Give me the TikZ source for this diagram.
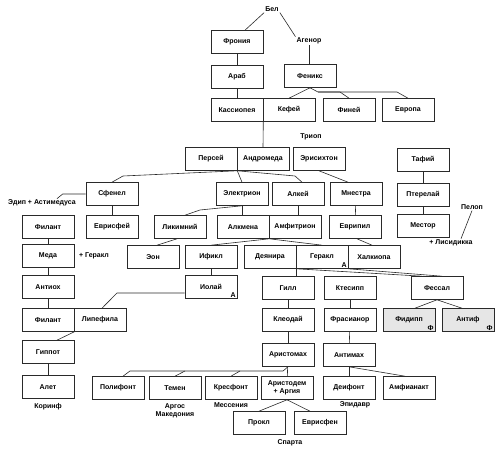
\documentclass[tikz,border=0pt]{standalone}
\usepackage{fontspec}
\setmainfont{Liberation Sans}
\usepackage{xcolor}
\usepackage{tikz}
\usetikzlibrary{positioning}
\definecolor{linkgray}{HTML}{2A2A2A}
\definecolor{shadegray}{HTML}{E6E6E6}

\begin{document}
\begin{tikzpicture}[x=1pt, y=-1pt,
    person/.style={draw=linkgray, line width=0.6pt, fill=white, minimum width=52pt, minimum height=23pt,
                   inner sep=1pt, font=\bfseries\fontsize{7}{8}\selectfont},
    shaded/.style={person, fill=shadegray},
    txt/.style={inner sep=1pt, font=\bfseries\fontsize{7}{8.5}\selectfont, align=center},
    cornertag/.style={anchor=south east, inner sep=1.5pt, font=\bfseries\fontsize{7}{8}\selectfont},
    link/.style={draw=linkgray, line width=0.6pt}]
  \useasboundingbox (0,0) rectangle (499,454);

  % top of the tree
  \node[txt] (bel) at (272,9) {Бел};
  \node[person] (fronia) at (237,42) {Фрония};
  \node[txt] (agenor) at (309,41) {Агенор};
  \node[person] (arab) at (237,77) {Араб};
  \node[person] (feniks) at (310,76) {Феникс};
  \node[person] (kassiopeia) at (237,110) {Кассиопея};
  \node[person] (kefei) at (289,110) {Кефей};
  \node[person] (finei) at (349,110) {Финей};
  \node[person] (evropa) at (408,110) {Европа};

  \node[person] (persei) at (211,159) {Персей};
  \node[person] (andromeda) at (263,159) {Андромеда};
  \node[txt] (triop) at (311,137) {Триоп};
  \node[person] (erisikhton) at (319,159) {Эрисихтон};

  \node[person] (tafii) at (423,160) {Тафий};
  \node[person] (pterelai) at (423,195) {Птерелай};
  \node[person] (mestor) at (423,226) {Местор};
  \node[txt] (pelop) at (472,207) {Пелоп};
  \node[txt] (lisidikka) at (451,243) {+ Лисидикка};

  % Perseids
  \node[person] (sfenel) at (112,194) {Сфенел};
  \node[txt] (edip) at (42,203) {Эдип + Астимедуса};
  \node[person] (elektrion) at (242,194) {Электрион};
  \node[person] (alkei) at (298,194) {Алкей};
  \node[person] (mnestra) at (356,194) {Мнестра};
  \node[person] (evrisfei) at (112,227) {Еврисфей};

  \node[person] (filant) at (48,227) {Филант};
  \node[person] (meda) at (48,256) {Меда};
  \node[txt] (plusgerakl) at (94,256) {+ Геракл};
  \node[person] (antioh) at (48,287) {Антиох};
  \node[person] (filantb) at (48,320) {Филант};
  \node[person] (lipefila) at (100,320) {Липефила};
  \node[person] (gippot) at (48,352) {Гиппот};
  \node[person] (alet) at (48,387) {Алет};
  \node[txt] (korinf) at (48,407) {Коринф};

  \node[person] (likimnii) at (180,227) {Ликимний};
  \node[person] (alkmena) at (243,227) {Алкмена};
  \node[person] (amfitrion) at (295,227) {Амфитрион};
  \node[person] (evripil) at (355,227) {Еврипил};

  \node[person] (eon) at (153,257) {Эон};
  \node[person] (ifikl) at (211,257) {Ификл};
  \node[person] (deianira) at (270,257) {Деянира};
  \node[person] (gerakl) at (322,257) {Геракл};
  \node[cornertag] at (gerakl.south east) {А};
  \node[person] (halkiopa) at (374,257) {Халкиопа};
  \node[person] (iolai) at (211,287) {Иолай};
  \node[cornertag] at (iolai.south east) {А};

  % Heraclids
  \node[person] (gill) at (288,288) {Гилл};
  \node[person] (ktesipp) at (350,288) {Ктесипп};
  \node[person] (fessal) at (437,288) {Фессал};
  \node[person] (kleodai) at (288,320) {Клеодай};
  \node[person] (frasianor) at (350,320) {Фрасианор};
  \node[shaded] (fidipp) at (409,320) {Фидипп};
  \node[cornertag] at (fidipp.south east) {Ф};
  \node[shaded] (antif) at (468,320) {Антиф};
  \node[cornertag] at (antif.south east) {Ф};
  \node[person] (aristomah) at (288,355) {Аристомах};
  \node[person] (antimah) at (349,355) {Антимах};

  \node[person] (polifont) at (118,388) {Полифонт};
  \node[person] (temen) at (175,388) {Темен};
  \node[txt] (argos) at (175,411) {Аргос\\Македония};
  \node[person] (kresfont) at (231,388) {Кресфонт};
  \node[txt] (messenia) at (231,405) {Мессения};
  \node[person, align=center] (aristodem) at (287,388) {Аристодем\\+ Аргия};
  \node[person] (deifont) at (349,388) {Деифонт};
  \node[txt] (epidavr) at (355,405) {Эпидавр};
  \node[person] (amfianakt) at (409,388) {Амфианакт};
  \node[person] (prokl) at (259,423) {Прокл};
  \node[person] (evrisfen) at (320,423) {Еврисфен};
  \node[txt] (sparta) at (290,443) {Спарта};

  % connectors
  \draw[link] (bel.south west) -- ([xshift=8pt]fronia.north);
  \draw[link] (bel.south east) -- (agenor.north west);
  \draw[link] (fronia) -- (arab);
  \draw[link] (agenor.south) -- (agenor.south |- feniks.north);
  \draw[link] (arab) -- (kassiopeia);
  \draw[link] (feniks.south) -- (kefei.north);
  \draw[link] (feniks.south) -- (318,92) -- (340,92) -- (finei.north);
  \draw[link] (318,92) -- (397,92) -- (evropa.north);
  \draw[link] (kassiopeia.south east) -- (andromeda.north);

  \draw[link] (persei.south east) -- (123,176) -- (sfenel.north);
  \draw[link] (persei.south east) -- (elektrion.north);
  \draw[link] (persei.south east) -- (295,176) -- ([xshift=4pt]alkei.north);
  \draw[link] (erisikhton.south) -- ([xshift=-8pt]mnestra.north);
  \draw[link] (tafii) -- (pterelai);
  \draw[link] (pterelai) -- (mestor);
  \draw[link] (pelop.south) -- ([xshift=10pt]lisidikka.north);

  \draw[link] (sfenel.west) -- ++(-23,0) -- ([xshift=-20pt]edip.north east);
  \draw[link] (sfenel) -- (evrisfei);
  \draw[link] (filant) -- (meda);
  \draw[link] (meda) -- (antioh);
  \draw[link] (antioh) -- (filantb);
  \draw[link] (filantb.south east) -- ([xshift=9pt]gippot.north);
  \draw[link] (gippot) -- (alet);
  \draw[link] ([yshift=-6pt]iolai.west) -- (117,293) -- ([xshift=2pt]lipefila.north);

  \draw[link] (elektrion.south) -- (elektrion.south |- alkmena.north);
  \draw[link] (elektrion.south) -- (200,210) -- ([xshift=5pt]likimnii.north);
  \draw[link] (alkei.south) -- (alkei.south |- amfitrion.north);
  \draw[link] (mnestra) -- (evripil);
  \draw[link] ([xshift=-3pt]likimnii.south) -- ([xshift=4pt]eon.north);
  \draw[link] (alkmena.south east) -- (ifikl.north);
  \draw[link] (alkmena.south east) -- (gerakl.north);
  \draw[link] ([xshift=2pt]evripil.south) -- ([xshift=-2pt]halkiopa.north);
  \draw[link] (ifikl) -- (iolai);

  \draw[link] (deianira.south east) -- (deianira.south east |- gill.north);
  \draw[link] (deianira.south east) -- ([xshift=-15pt]fessal.north);
  \draw[link] (gerakl.south east) -- ([xshift=5pt]fessal.north);
  \draw[link] (gill) -- (kleodai);
  \draw[link] (kleodai) -- (aristomah);
  \draw[link] (ktesipp) -- (frasianor);
  \draw[link] (frasianor) -- (antimah);
  \draw[link] (fessal.south) -- ([xshift=6pt]fidipp.north);
  \draw[link] (fessal.south) -- ([xshift=-6pt]antif.north);

  \draw[link] (aristomah.south) -- (283,371) -- (130,371) -- ([xshift=5pt]polifont.north);
  \draw[link] (185,371) -- (temen.north);
  \draw[link] (240,371) -- (kresfont.north);
  \draw[link] (aristomah) -- (aristodem);
  \draw[link] (antimah) -- (deifont);
  \draw[link] (antimah.south) -- ([xshift=-4pt]amfianakt.north);
  \draw[link] (aristodem.south) -- (prokl.north);
  \draw[link] (aristodem.south) -- ([xshift=-10pt]evrisfen.north);
\end{tikzpicture}
\end{document}
